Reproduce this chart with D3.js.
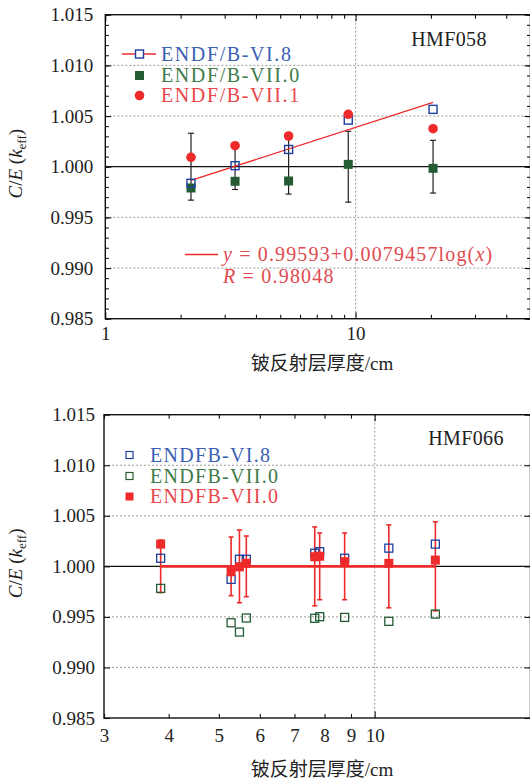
<!DOCTYPE html>
<html>
<head>
<meta charset="utf-8">
<title>C/E keff vs Be reflector thickness</title>
<script src="https://cdn.jsdelivr.net/npm/d3@7"></script>
<style>
  body { margin: 0; background: #fff; }
  svg { display: block; }
  text { font-family: 'Liberation Serif', 'DejaVu Serif', 'Noto Sans CJK SC', serif; fill: #222; }
  .tick text { font-size: 19px; fill: #222; }
  .tick line { stroke: #111; stroke-width: 1.1; }
  .domain { display: none; }
  .grid { stroke: #9a9a9a; stroke-width: 1; stroke-dasharray: 2 2; }
</style>
</head>
<body>
<svg id="chart" width="530" height="780"></svg>
<script>
// ---- top panel (HMF058) ----
const topX     = [2.2, 3.3, 5.4, 9.35, 20.4];
const topVI8   = [0.99836, 1.0001, 1.0017, 1.0046, 1.00566];
const topVII0  = [0.9979, 0.99856, 0.99859, 1.00023, 0.99984];
const topVII1  = [1.00093, 1.00207, 1.00303, 1.00517, 1.00375];
const topErr   = [0.0033, 0.00225, 0.0027, 0.0035, 0.0026];
const fitX     = [2.2, 20.4];
const fitY     = [0.99865, 1.00634];
const topXTicks  = [1, 2, 3, 4, 5, 6, 7, 8, 9, 10, 20, 30, 40];
const topXLabels = [1, 10];

// ---- bottom panel (HMF066) ----
const botX     = [3.86, 5.28, 5.48, 5.65, 7.66, 7.83, 8.75, 10.65, 13.1];
const botVI8   = [1.0008, 0.99871, 1.0007, 1.0007, 1.0013, 1.00145, 1.0008, 1.0018, 1.0022];
const botVII0  = [0.99782, 0.99442, 0.9935, 0.99489, 0.99486, 0.99502, 0.99495, 0.99456, 0.99528];
const botRed   = [1.0022, 0.99947, 0.99995, 1.0003, 1.00095, 1.0010, 1.00046, 1.0003, 1.00062];
const botErr   = [0.0026, 0.0029, 0.0036, 0.003, 0.0039, 0.0033, 0.0033, 0.0041, 0.0044];
const botMean  = 1.0;
const botXTicks  = [3, 4, 5, 6, 7, 8, 9, 10];
const botXLabels = [3, 4, 5, 6, 7, 8, 9, 10];

const yDomain  = [0.985, 1.015];
const yMajor   = [0.985, 0.990, 0.995, 1.000, 1.005, 1.010, 1.015];
const yGrid    = [0.990, 0.995, 1.005, 1.010];
const xLabelText = '铍反射层厚度/cm';

const C = {
  blue: '#1d3f9e', blueTxt: '#3b5fb3',
  green: '#255c33', greenTxt: '#3f7a49',
  red: '#ee2a2a', redTxt: '#e9474b', fitTxt: '#e04a50'
};

const svg = d3.select('#chart');
const fmt = d3.format('.3f');

function panel(cfg) {
  const g = svg.append('g');
  const x = d3.scaleLog().domain(cfg.xDomain).range([cfg.left, cfg.right]);
  const y = d3.scaleLinear().domain(yDomain).range([cfg.bottom, cfg.top]);

  // dashed grid
  g.selectAll('.gy').data(yGrid).join('line').attr('class', 'grid')
    .attr('x1', cfg.left).attr('x2', cfg.right)
    .attr('y1', d => y(d)).attr('y2', d => y(d));
  g.append('line').attr('class', 'grid')
    .attr('x1', x(10)).attr('x2', x(10)).attr('y1', cfg.top).attr('y2', cfg.bottom);
  // reference line at 1.000
  g.append('line').attr('stroke', '#111').attr('stroke-width', 1.3)
    .attr('x1', cfg.left).attr('x2', cfg.right).attr('y1', y(1)).attr('y2', y(1));

  // y axes (ticks inside)
  if (cfg.yMinor) {
    g.append('g').attr('transform', `translate(${cfg.left},0)`)
      .call(d3.axisLeft(y).tickValues(y.ticks(30)).tickSize(-3.5).tickFormat(''));
    g.append('g').attr('transform', `translate(${cfg.right},0)`)
      .call(d3.axisRight(y).tickValues(y.ticks(30)).tickSize(-3.5).tickFormat(''));
  }
  g.append('g').attr('transform', `translate(${cfg.left},0)`)
    .call(d3.axisLeft(y).tickValues(yMajor).tickSize(-6).tickPadding(cfg.yPad).tickFormat(fmt));
  g.append('g').attr('transform', `translate(${cfg.right},0)`)
    .call(d3.axisRight(y).tickValues(yMajor).tickSize(-6).tickFormat(''));

  // x axes
  const xa = g.append('g').attr('transform', `translate(0,${cfg.bottom})`)
    .call(d3.axisBottom(x).tickValues(cfg.xTicks).tickSize(-4).tickPadding(cfg.xPad)
      .tickFormat(d => cfg.xLabels.includes(d) ? d : ''));
  xa.selectAll('.tick line').attr('y2', d => d === 10 || d === 1 ? -6.5 : -4);
  const xt = g.append('g').attr('transform', `translate(0,${cfg.top})`)
    .call(d3.axisTop(x).tickValues(cfg.xTicks).tickSize(-4).tickFormat(''));
  xt.selectAll('.tick line').attr('y2', d => d === 10 || d === 1 ? 6.5 : 4);

  // frame
  g.append('rect').attr('x', cfg.left).attr('y', cfg.top)
    .attr('width', cfg.right - cfg.left).attr('height', cfg.bottom - cfg.top)
    .attr('fill', 'none').attr('stroke', '#111').attr('stroke-width', 1.4);

  // axis titles
  const yt = g.append('text').attr('text-anchor', 'middle').attr('font-size', 19)
    .attr('transform', `translate(${cfg.yTitleX},${(cfg.top + cfg.bottom) / 2 - 3}) rotate(-90)`);
  yt.append('tspan').attr('font-style', 'italic').text('C');
  yt.append('tspan').text('/');
  yt.append('tspan').attr('font-style', 'italic').text('E');
  yt.append('tspan').text(' (');
  yt.append('tspan').attr('font-style', 'italic').text('k');
  yt.append('tspan').attr('font-size', 13).attr('dy', 4).text('eff');
  yt.append('tspan').attr('dy', -4).text(')');

  g.append('text').attr('text-anchor', 'middle').attr('font-size', 19)
    .attr('x', 322).attr('y', cfg.xTitleY).text(xLabelText);

  g.append('text').attr('text-anchor', 'middle').attr('font-size', 20)
    .attr('letter-spacing', 0.4)
    .attr('x', cfg.tagX).attr('y', cfg.tagY).text(cfg.tag);

  return { g, x, y };
}

// ================= top panel =================
const T = panel({
  left: 105.3, right: 530.5, top: 14.7, bottom: 318.7,
  xDomain: [1, 50], xTicks: topXTicks, xLabels: topXLabels,
  yMinor: true, yPad: 12, xPad: 8, yTitleX: 22, xTitleY: 370,
  tag: 'HMF058', tagX: 449, tagY: 46
});
{
  const { g, x, y } = T;
  const eb = g.append('g').attr('stroke', '#222').attr('stroke-width', 1.2);
  topX.forEach((xv, i) => {
    const px = x(xv), y0 = y(1 + topErr[i]), y1 = y(1 - topErr[i]);
    eb.append('line').attr('x1', px).attr('x2', px).attr('y1', y0).attr('y2', y1);
    eb.append('line').attr('x1', px - 3).attr('x2', px + 3).attr('y1', y0).attr('y2', y0);
    eb.append('line').attr('x1', px - 3).attr('x2', px + 3).attr('y1', y1).attr('y2', y1);
  });
  g.selectAll('.vii0').data(topX).join('rect')
    .attr('x', (d) => x(d) - 4.5).attr('y', (d, i) => y(topVII0[i]) - 4.5)
    .attr('width', 9).attr('height', 9).attr('fill', C.green);
  g.append('line').attr('stroke', C.red).attr('stroke-width', 1.3)
    .attr('x1', x(fitX[0])).attr('x2', x(fitX[1])).attr('y1', y(fitY[0])).attr('y2', y(fitY[1]));
  g.selectAll('.vi8').data(topX).join('rect')
    .attr('x', (d) => x(d) - 4).attr('y', (d, i) => y(topVI8[i]) - 4)
    .attr('width', 8).attr('height', 8).attr('fill', 'none')
    .attr('stroke', C.blue).attr('stroke-width', 1.4);
  g.selectAll('.vii1').data(topX).join('circle')
    .attr('cx', (d) => x(d)).attr('cy', (d, i) => y(topVII1[i]))
    .attr('r', 4.8).attr('fill', C.red);

  // legend
  const lg = g.append('g');
  lg.append('line').attr('x1', 122).attr('x2', 156).attr('y1', 54).attr('y2', 54)
    .attr('stroke', C.red).attr('stroke-width', 1.3);
  lg.append('rect').attr('x', 135.5).attr('y', 50).attr('width', 8).attr('height', 8)
    .attr('fill', '#fff').attr('stroke', C.blue).attr('stroke-width', 1.4);
  lg.append('rect').attr('x', 135).attr('y', 71).attr('width', 9).attr('height', 9).attr('fill', C.green);
  lg.append('circle').attr('cx', 139.5).attr('cy', 95.5).attr('r', 4.8).attr('fill', C.red);
  const lt = [['ENDF/B-VI.8', C.blueTxt, 61], ['ENDF/B-VII.0', C.greenTxt, 82], ['ENDF/B-VII.1', C.redTxt, 102]];
  lt.forEach(([t, c, yy]) => {
    lg.append('text').attr('x', 161).attr('y', yy).attr('font-size', 20)
      .attr('letter-spacing', 1.6).style('fill', c).text(t);
  });

  // fit legend
  lg.append('line').attr('x1', 185).attr('x2', 218).attr('y1', 254.5).attr('y2', 254.5)
    .attr('stroke', C.red).attr('stroke-width', 1.5);
  const f1 = lg.append('text').attr('x', 223).attr('y', 261).attr('font-size', 20)
    .attr('letter-spacing', 1.15).style('fill', C.fitTxt);
  f1.append('tspan').attr('font-style', 'italic').text('y');
  f1.append('tspan').text(' = 0.99593+0.0079457log(');
  f1.append('tspan').attr('font-style', 'italic').text('x');
  f1.append('tspan').text(')');
  const f2 = lg.append('text').attr('x', 223).attr('y', 283).attr('font-size', 20)
    .attr('letter-spacing', 1.2).style('fill', C.fitTxt);
  f2.append('tspan').attr('font-style', 'italic').text('R');
  f2.append('tspan').text(' = 0.98048');
}

// ================= bottom panel =================
const B = panel({
  left: 104, right: 530.5, top: 414.7, bottom: 718,
  xDomain: [3, 20], xTicks: botXTicks, xLabels: botXLabels,
  yMinor: false, yPad: 9, xPad: 11, yTitleX: 22, xTitleY: 776,
  tag: 'HMF066', tagX: 466, tagY: 445
});
{
  const { g, x, y } = B;
  const eb = g.append('g').attr('stroke', C.red).attr('stroke-width', 1.6);
  botX.forEach((xv, i) => {
    const px = x(xv), y0 = y(1 + botErr[i]), y1 = y(1 - botErr[i]);
    eb.append('line').attr('x1', px).attr('x2', px).attr('y1', y0).attr('y2', y1);
    eb.append('line').attr('x1', px - 2.5).attr('x2', px + 2.5).attr('y1', y0).attr('y2', y0);
    eb.append('line').attr('x1', px - 2.5).attr('x2', px + 2.5).attr('y1', y1).attr('y2', y1);
  });
  g.selectAll('.vii0').data(botX).join('rect')
    .attr('x', (d) => x(d) - 4).attr('y', (d, i) => y(botVII0[i]) - 4)
    .attr('width', 8).attr('height', 8).attr('fill', 'none')
    .attr('stroke', C.green).attr('stroke-width', 1.3);
  g.selectAll('.vi8').data(botX).join('rect')
    .attr('x', (d) => x(d) - 4).attr('y', (d, i) => y(botVI8[i]) - 4)
    .attr('width', 8).attr('height', 8).attr('fill', 'none')
    .attr('stroke', C.blue).attr('stroke-width', 1.3);
  g.append('line').attr('stroke', C.red).attr('stroke-width', 2.8)
    .attr('x1', x(botX[0])).attr('x2', x(botX[botX.length - 1]))
    .attr('y1', y(botMean)).attr('y2', y(botMean));
  g.selectAll('.red').data(botX).join('rect')
    .attr('x', (d) => x(d) - 4.5).attr('y', (d, i) => y(botRed[i]) - 4.5)
    .attr('width', 9).attr('height', 9).attr('fill', C.red);

  const lg = g.append('g');
  lg.append('rect').attr('x', 126).attr('y', 451.5).attr('width', 7).attr('height', 7)
    .attr('fill', 'none').attr('stroke', C.blue).attr('stroke-width', 1.2);
  lg.append('rect').attr('x', 126).attr('y', 472.5).attr('width', 7).attr('height', 7)
    .attr('fill', 'none').attr('stroke', C.green).attr('stroke-width', 1.2);
  lg.append('rect').attr('x', 125.5).attr('y', 492.5).attr('width', 8).attr('height', 8)
    .attr('fill', C.red);
  const lt = [['ENDFB-VI.8', C.blueTxt, 462], ['ENDFB-VII.0', C.greenTxt, 483], ['ENDFB-VII.0', C.redTxt, 503]];
  lt.forEach(([t, c, yy]) => {
    lg.append('text').attr('x', 150).attr('y', yy).attr('font-size', 20)
      .attr('letter-spacing', 1.3).style('fill', c).text(t);
  });
}
</script>
</body>
</html>
